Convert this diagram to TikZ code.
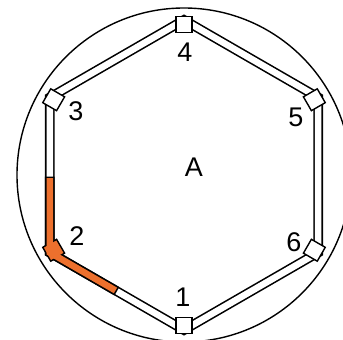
\documentclass[tikz,border=0pt]{standalone}
\usepackage{fontspec}
\setmainfont{Liberation Sans}
\definecolor{pathorange}{RGB}{237,112,45}
\usetikzlibrary{calc}

\begin{document}
\begin{tikzpicture}[x=1pt,y=1pt,
    post/.style={draw, fill=white, line width=1.4pt, minimum size=16pt, inner sep=0pt},
    lbl/.style={font=\fontsize{27}{30}\selectfont, inner sep=0pt}]
  \useasboundingbox (-184,-165) rectangle (159,175);
  \begin{scope}
    \clip (-184,-165) rectangle (159,175);
    \draw[line width=1.4pt] (0,0) circle (167);
  \end{scope}
  % corners of the track
  \foreach \i/\a in {1/270,2/210,3/150,4/90,5/30,6/330}
    \coordinate (b\i) at (\a:155);
  \draw[line width=1.6pt, double=white, double distance=6.5pt]
    (b1) -- (b2) -- (b3) -- (b4) -- (b5) -- (b6) -- cycle;
  % the orange part
  \coordinate (ostart) at ($(b2)!0.49!(b3)$);
  \coordinate (oend) at ($(b2)!0.5!(b1)$);
  \draw[line width=9.7pt, line join=miter] (ostart) -- (b2) -- (oend);
  \node[post, fill=pathorange, rotate=120] (v2) at (210:150.5) {};
  \draw[pathorange, line width=6.5pt, line join=miter, shorten <=1.6pt, shorten >=1.6pt]
    (ostart) -- (b2) -- (oend);
  \foreach \i/\a in {1/270,3/150,4/90,5/30,6/330}
    \node[post, rotate=\a-90] (v\i) at (\a:150.5) {};
  % labels
  \node[lbl] (n1) at (-1,-122) {1};
  \node[lbl] (n2) at (-107,-61) {2};
  \node[lbl] (n3) at (-108,64) {3};
  \node[lbl] (n4) at (1,123) {4};
  \node[lbl] (n5) at (112,58) {5};
  \node[lbl] (n6) at (110,-67) {6};
  \node[lbl] (area) at (10,8) {A};
\end{tikzpicture}
\end{document}
